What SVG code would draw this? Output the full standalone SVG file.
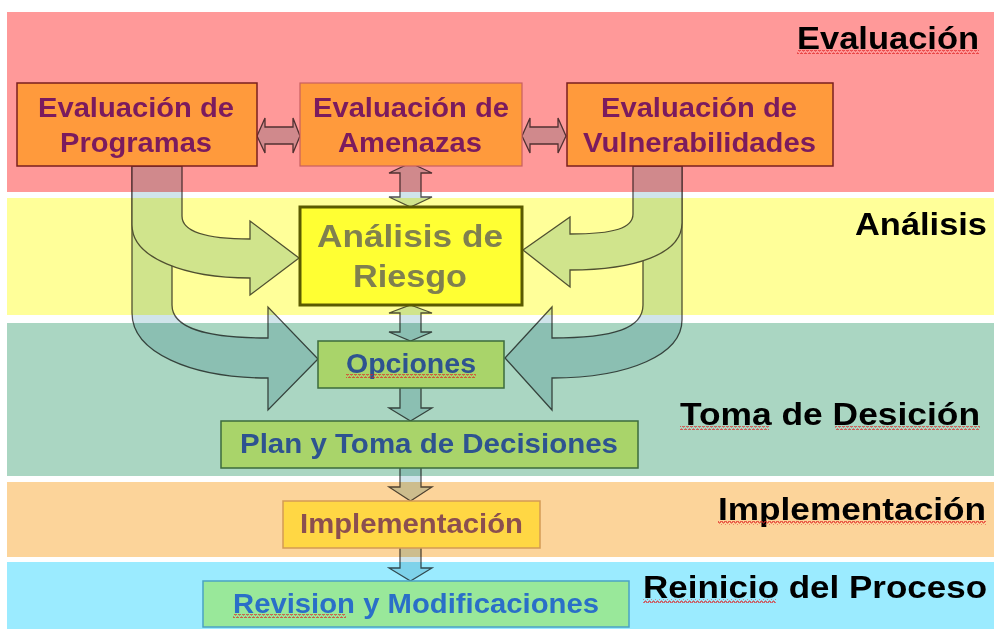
<svg xmlns="http://www.w3.org/2000/svg" width="994" height="629" viewBox="0 0 994 629">
<defs>
<pattern id="sq" width="4" height="4" patternUnits="userSpaceOnUse">
<path d="M0,3 L1,1 L2,1 L3,3 L4,3" fill="none" stroke="#E02020" stroke-width="0.9"/>
</pattern>
</defs>
<style>
.band-label{font-family:"Liberation Sans",Arial,sans-serif;font-weight:bold;font-size:31px;fill:#000}
.t{font-family:"Liberation Sans",Arial,sans-serif;font-weight:bold;font-size:28px;text-anchor:middle}
.eval{fill:#FF9A3C;stroke:#7A1F1F;stroke-width:1.5}
.tp{fill:#7B1B5E}
.arr{fill:#D0E4EA;stroke:#505050;stroke-width:1.3;stroke-linejoin:miter}
.sq{fill:url(#sq)}
</style>
<rect x="0" y="0" width="994" height="629" fill="#FFFFFF"/>
<g id="bands">
<rect x="7" y="12" width="987" height="180" fill="#FF9999"/>
<rect x="7" y="198" width="987" height="117" fill="#FFFF99"/>
<rect x="7" y="323" width="987" height="153" fill="#AAD6C2"/>
<rect x="7" y="482" width="987" height="75" fill="#FCD49A"/>
<rect x="7" y="562" width="987" height="67" fill="#9BEBFF"/>
</g>
<g id="band-labels">
<text class="band-label" x="797" y="49" textLength="182" lengthAdjust="spacingAndGlyphs">Evaluación</text>
<text class="band-label" x="855" y="235" textLength="132" lengthAdjust="spacingAndGlyphs">Análisis</text>
<text class="band-label" x="680" y="425" textLength="300" lengthAdjust="spacingAndGlyphs">Toma de Desición</text>
<text class="band-label" x="718" y="520" textLength="268" lengthAdjust="spacingAndGlyphs">Implementación</text>
<text class="band-label" x="643" y="598" textLength="344" lengthAdjust="spacingAndGlyphs">Reinicio del Proceso</text>
<rect class="sq" x="797" y="50" width="182" height="4"/>
<rect class="sq" x="680" y="426" width="89" height="4"/>
<rect class="sq" x="835" y="426" width="145" height="4"/>
<rect class="sq" x="718" y="521" width="268" height="4"/>
<rect class="sq" x="643" y="599" width="133" height="4"/>
</g>
<g id="connectors" style="mix-blend-mode:multiply">
<path class="arr" d="M132,166 L132,313 C132,352 190,378 268,378 L268,410 L318,359 L268,307 L268,338 C205,338 172,328 172,305 L172,166 Z"/>
<path class="arr" d="M132,166 L132,225 C132,258 185,278 250,278 L250,295 L299,258 L250,221 L250,239 C205,239 182,232 182,216 L182,166 Z"/>
<path class="arr" d="M682,166 L682,320 C682,354 630,378 552,378 L552,410 L505,358 L552,307 L552,338 C615,338 643,328 643,305 L643,166 Z"/>
<path class="arr" d="M682,166 L682,223 C682,254 635,270 570,270 L570,287 L523,250 L570,217 L570,234 C615,234 633,228 633,214 L633,166 Z"/>
<path class="arr" d="M257,136 L265,118 L265,127 L293,127 L293,118 L300,136 L293,153 L293,144 L265,144 L265,153 Z"/>
<path class="arr" d="M522,136 L530,118 L530,127 L558,127 L558,118 L566,136 L558,153 L558,144 L530,144 L530,153 Z"/>
<path class="arr" d="M410.5,163 L432,173 L421,173 L421,197 L432,197 L410.5,207 L389,197 L400,197 L400,173 L389,173 Z"/>
<path class="arr" d="M410.5,305 L432,313 L421,313 L421,332 L432,332 L410.5,341 L389,332 L400,332 L400,313 L389,313 Z"/>
<path class="arr" d="M400,386 L421,386 L421,408 L432,408 L410.5,421 L389,408 L400,408 Z"/>
<path class="arr" d="M400,466 L421,466 L421,487 L432,487 L410.5,501 L389,487 L400,487 Z"/>
<path class="arr" d="M400,546 L421,546 L421,568 L432,568 L410.5,581 L389,568 L400,568 Z"/>
</g>
<g id="eval-programas">
<rect class="eval" x="17" y="83" width="240" height="83"/>
<text class="t tp" x="136" y="117" textLength="196" lengthAdjust="spacingAndGlyphs">Evaluación de</text>
<text class="t tp" x="136" y="152" textLength="152" lengthAdjust="spacingAndGlyphs">Programas</text>
</g>
<g id="eval-amenazas">
<rect x="300" y="83" width="222" height="83" fill="#FF9A3C" stroke="#C86060" stroke-width="1.2"/>
<text class="t tp" x="411" y="117" textLength="196" lengthAdjust="spacingAndGlyphs">Evaluación de</text>
<text class="t tp" x="410" y="152" textLength="144" lengthAdjust="spacingAndGlyphs">Amenazas</text>
</g>
<g id="eval-vulnerabilidades">
<rect class="eval" x="567" y="83" width="266" height="83"/>
<text class="t tp" x="699" y="117" textLength="196" lengthAdjust="spacingAndGlyphs">Evaluación de</text>
<text class="t tp" x="699.5" y="152" textLength="233" lengthAdjust="spacingAndGlyphs">Vulnerabilidades</text>
</g>
<g id="analisis-riesgo">
<rect x="300" y="207" width="222" height="98" fill="#FFFF33" stroke="#5A5A00" stroke-width="3"/>
<text class="t" x="410" y="247" fill="#80804F" textLength="186" lengthAdjust="spacingAndGlyphs" style="font-size:32px">Análisis de</text>
<text class="t" x="410" y="287" fill="#80804F" textLength="114" lengthAdjust="spacingAndGlyphs" style="font-size:32px">Riesgo</text>
</g>
<g id="opciones">
<rect x="318" y="341" width="186" height="47" fill="#A9D46A" stroke="#3D6B3D" stroke-width="1.5"/>
<text class="t" x="411" y="373" fill="#2E5390" textLength="130" lengthAdjust="spacingAndGlyphs">Opciones</text>
<rect class="sq" x="346" y="374" width="130" height="4"/>
</g>
<g id="plan-decisiones">
<rect x="221" y="421" width="417" height="47" fill="#A9D46A" stroke="#3D6B3D" stroke-width="1.5"/>
<text class="t" x="429" y="453" fill="#2E5390" textLength="378" lengthAdjust="spacingAndGlyphs">Plan y Toma de Decisiones</text>
</g>
<g id="implementacion">
<rect x="283" y="501" width="257" height="47" fill="#FFD744" stroke="#D39A55" stroke-width="1.5"/>
<text class="t" x="411.5" y="533" fill="#8B4F50" textLength="223" lengthAdjust="spacingAndGlyphs">Implementación</text>
</g>
<g id="revision">
<rect x="203" y="581" width="426" height="46" fill="#99E89A" stroke="#4BA3C3" stroke-width="1.5"/>
<text class="t" x="416" y="613" fill="#2A6FC8" textLength="366" lengthAdjust="spacingAndGlyphs">Revision y Modificaciones</text>
<rect class="sq" x="233" y="614" width="113" height="4"/>
</g>
</svg>
